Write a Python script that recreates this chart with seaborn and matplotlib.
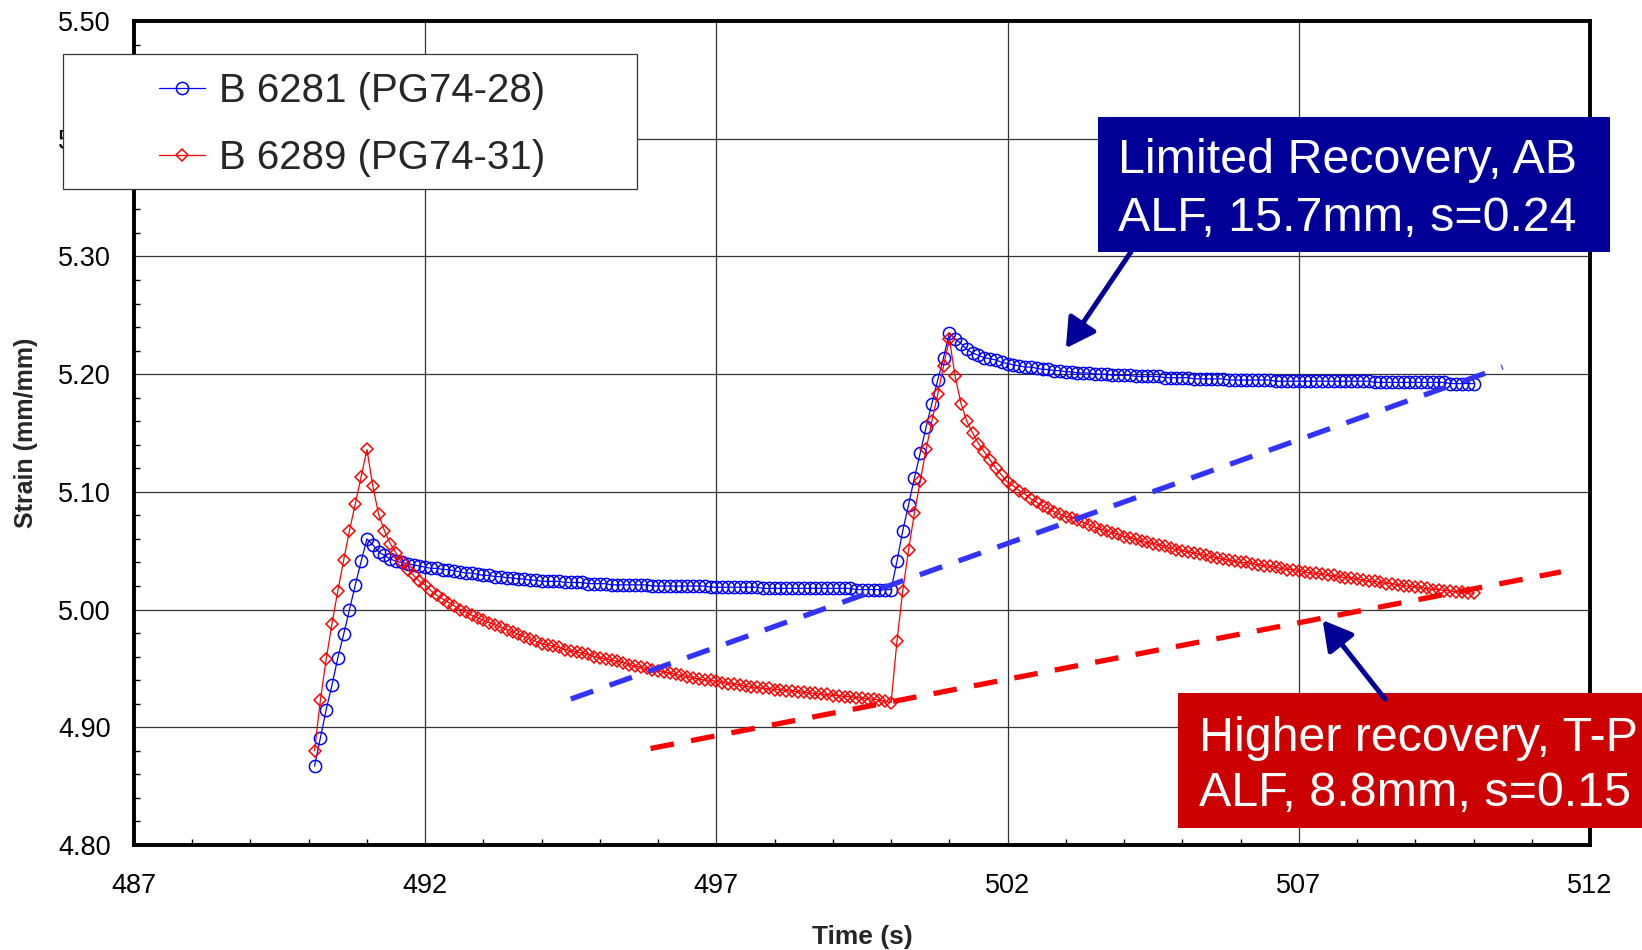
import numpy as np
import pandas as pd
import matplotlib
matplotlib.use("Agg")
import matplotlib.pyplot as plt
import seaborn as sns
from matplotlib.patches import Rectangle
from matplotlib.ticker import MultipleLocator, FixedLocator, FormatStrFormatter

# ---------------- data ----------------
series_labels = ["B 6281 (PG74-28)", "B 6289 (PG74-31)"]
time_start = 490.1   # first sample (s)
time_step = 0.1      # sampling interval (s)

strain_b6281 = [
    4.867, 4.891, 4.915, 4.936, 4.959, 4.979, 5.000, 5.021, 5.041, 5.060,
    5.055, 5.049, 5.046, 5.043, 5.041, 5.040, 5.039, 5.038, 5.037, 5.036,
    5.035, 5.035, 5.034, 5.034, 5.033, 5.032, 5.031, 5.031, 5.030, 5.029,
    5.029, 5.028, 5.028, 5.027, 5.027, 5.026, 5.026, 5.025, 5.025, 5.024,
    5.024, 5.024, 5.024, 5.023, 5.023, 5.023, 5.023, 5.022, 5.022, 5.022,
    5.022, 5.021, 5.021, 5.021, 5.021, 5.021, 5.021, 5.021, 5.020, 5.020,
    5.020, 5.020, 5.020, 5.020, 5.020, 5.020, 5.020, 5.020, 5.019, 5.019,
    5.019, 5.019, 5.019, 5.019, 5.019, 5.019, 5.019, 5.018, 5.018, 5.018,
    5.018, 5.018, 5.018, 5.018, 5.018, 5.018, 5.018, 5.018, 5.018, 5.018,
    5.018, 5.018, 5.018, 5.017, 5.017, 5.017, 5.017, 5.017, 5.017, 5.017,
    5.041, 5.067, 5.089, 5.112, 5.133, 5.155, 5.175, 5.195, 5.214, 5.235,
    5.230, 5.226, 5.221, 5.218, 5.216, 5.214, 5.213, 5.212, 5.210, 5.209,
    5.208, 5.207, 5.206, 5.206, 5.205, 5.204, 5.204, 5.203, 5.203, 5.202,
    5.202, 5.201, 5.201, 5.201, 5.200, 5.200, 5.200, 5.199, 5.199, 5.199,
    5.199, 5.198, 5.198, 5.198, 5.198, 5.198, 5.197, 5.197, 5.197, 5.197,
    5.197, 5.196, 5.196, 5.196, 5.196, 5.196, 5.196, 5.195, 5.195, 5.195,
    5.195, 5.195, 5.195, 5.195, 5.195, 5.194, 5.194, 5.194, 5.194, 5.194,
    5.194, 5.194, 5.194, 5.194, 5.194, 5.194, 5.194, 5.194, 5.194, 5.194,
    5.194, 5.194, 5.193, 5.193, 5.193, 5.193, 5.193, 5.193, 5.193, 5.193,
    5.193, 5.193, 5.193, 5.193, 5.193, 5.192, 5.192, 5.192, 5.192, 5.192,
]

strain_b6289 = [
    4.880, 4.923, 4.958, 4.988, 5.016, 5.042, 5.067, 5.090, 5.113, 5.136,
    5.105, 5.081, 5.067, 5.056, 5.048, 5.040, 5.034, 5.029, 5.024, 5.021,
    5.016, 5.012, 5.009, 5.006, 5.003, 5.000, 4.998, 4.995, 4.993, 4.991,
    4.989, 4.987, 4.985, 4.983, 4.981, 4.979, 4.977, 4.975, 4.973, 4.971,
    4.970, 4.969, 4.968, 4.966, 4.965, 4.964, 4.963, 4.962, 4.960, 4.959,
    4.958, 4.957, 4.956, 4.955, 4.953, 4.952, 4.951, 4.950, 4.949, 4.948,
    4.947, 4.946, 4.945, 4.944, 4.943, 4.942, 4.941, 4.940, 4.940, 4.939,
    4.938, 4.937, 4.937, 4.936, 4.935, 4.934, 4.934, 4.933, 4.933, 4.932,
    4.932, 4.931, 4.931, 4.930, 4.930, 4.929, 4.929, 4.928, 4.928, 4.927,
    4.927, 4.926, 4.926, 4.925, 4.925, 4.924, 4.924, 4.923, 4.922, 4.921,
    4.973, 5.016, 5.051, 5.082, 5.109, 5.136, 5.160, 5.183, 5.207, 5.230,
    5.198, 5.175, 5.160, 5.150, 5.141, 5.134, 5.127, 5.120, 5.114, 5.108,
    5.105, 5.101, 5.098, 5.094, 5.091, 5.088, 5.086, 5.083, 5.081, 5.079,
    5.078, 5.076, 5.074, 5.072, 5.070, 5.068, 5.067, 5.065, 5.064, 5.062,
    5.061, 5.060, 5.058, 5.057, 5.056, 5.055, 5.054, 5.052, 5.051, 5.050,
    5.049, 5.048, 5.047, 5.046, 5.045, 5.044, 5.043, 5.042, 5.041, 5.040,
    5.040, 5.039, 5.038, 5.037, 5.037, 5.036, 5.035, 5.034, 5.034, 5.033,
    5.032, 5.031, 5.031, 5.030, 5.029, 5.029, 5.028, 5.027, 5.027, 5.026,
    5.025, 5.024, 5.024, 5.023, 5.022, 5.022, 5.021, 5.020, 5.020, 5.019,
    5.019, 5.018, 5.017, 5.017, 5.016, 5.016, 5.015, 5.015, 5.014, 5.014,
]

# hand-drawn trend lines (end points)
trend_blue_time = [494.50, 510.50]
trend_blue_strain = [4.924, 5.206]
trend_red_time = [495.87, 511.50]
trend_red_strain = [4.882, 5.032]

x_ticks = [487, 492, 497, 502, 507, 512]
y_ticks = [4.80, 4.90, 5.00, 5.10, 5.20, 5.30, 5.40, 5.50]

note_blue = ["Limited Recovery, AB", "ALF, 15.7mm, s=0.24"]
note_red = ["Higher recovery, T-P", "ALF, 8.8mm, s=0.15"]

x_label = "Time (s)"
y_label = "Strain (mm/mm)"

# ---------------- styling ----------------
sns.set_style("white")
plt.rcParams["font.family"] = ["Liberation Sans", "DejaVu Sans"]

W, H = 1642, 950
fig = plt.figure(figsize=(W / 100, H / 100), dpi=100)
ax = fig.add_axes([134 / W, 1 - 845 / H, (1590 - 134) / W, (845 - 21) / H])

n = len(strain_b6281)
time = np.round(time_start + time_step * np.arange(n), 1)
df = pd.DataFrame({"time": time, "b6281": strain_b6281, "b6289": strain_b6289})

BLUE = "#0000FF"
RED = "#FF0000"

sns.lineplot(data=df, x="time", y="b6281", ax=ax, color=BLUE, linewidth=0.9,
             marker="o", markersize=8.8, markerfacecolor="none",
             markeredgecolor=BLUE, markeredgewidth=1.1,
             estimator=None, sort=False, legend=False, zorder=3)
line_b = ax.lines[-1]
sns.lineplot(data=df, x="time", y="b6289", ax=ax, color=RED, linewidth=0.9,
             marker="D", markersize=6.2, markerfacecolor="none",
             markeredgecolor=RED, markeredgewidth=1.1,
             estimator=None, sort=False, legend=False, zorder=3)
line_r = ax.lines[-1]

# trend lines
ax.plot(trend_blue_time, trend_blue_strain, color="#3333FF", lw=3.8,
        dashes=(4.5, 3.3), zorder=4, dash_capstyle="butt")
ax.plot(trend_red_time, trend_red_strain, color=RED, lw=3.8,
        dashes=(4.5, 3.3), zorder=4, dash_capstyle="butt")

# axes
ax.set_xlim(487, 512)
ax.set_ylim(4.80, 5.50)
ax.xaxis.set_major_locator(FixedLocator(x_ticks))
ax.yaxis.set_major_locator(FixedLocator(y_ticks))
ax.xaxis.set_minor_locator(MultipleLocator(1))
ax.yaxis.set_minor_locator(MultipleLocator(0.02))
ax.yaxis.set_major_formatter(FormatStrFormatter("%.2f"))
ax.grid(True, which="major", color="#333333", lw=0.9)
ax.set_axisbelow(True)
ax.tick_params(which="major", direction="in", length=0, labelsize=19.5,
               colors="black")
ax.tick_params(axis="x", which="major", pad=20)
ax.tick_params(axis="y", which="major", pad=16.5)
ax.tick_params(which="minor", direction="in", length=4, width=1,
               color="black", bottom=True, left=True)
for s in ax.spines.values():
    s.set_linewidth(2.8)
    s.set_color("black")

ax.set_xlabel(x_label, fontsize=19, fontweight="bold")
ax.set_ylabel(y_label, fontsize=18, fontweight="bold")
ax.xaxis.set_label_coords(0.5, (845 - 925) / 824)
ax.yaxis.set_label_coords((38 - 134) / 1456, 0.5)

# annotation boxes
ax.add_patch(Rectangle((503.55, 5.3037), 512.34 - 503.55, 5.4184 - 5.3037,
                       facecolor="#000099", edgecolor="none", zorder=6,
                       clip_on=False))
ax.add_patch(Rectangle((504.93, 4.8146), 513.6 - 504.93, 4.9288 - 4.8146,
                       facecolor="#CC0000", edgecolor="none", zorder=6,
                       clip_on=False))
for txt, yy in zip(note_blue, [5.3706, 5.3218]):
    ax.text(503.90, yy, txt, color="white", fontsize=34.8, ha="left",
            va="baseline", zorder=7, clip_on=False)
for txt, yy in zip(note_red, [4.8798, 4.8333]):
    ax.text(505.29, yy, txt, color="white", fontsize=34.8, ha="left",
            va="baseline", zorder=7, clip_on=False)

arrow_kw = dict(arrowstyle="-|>,head_length=0.8,head_width=0.45",
                color="#000099", lw=3.6, mutation_scale=22,
                shrinkA=0, shrinkB=0)
ax.annotate("", xy=(503.00, 5.222), xytext=(504.12, 5.304),
            arrowprops=arrow_kw, annotation_clip=False, zorder=8)
ax.annotate("", xy=(507.41, 4.991), xytext=(508.48, 4.924),
            arrowprops=arrow_kw, annotation_clip=False, zorder=8)

# legend with box extending beyond the axes
fig.add_artist(Rectangle((63 / W, 1 - 188.5 / H), 574 / W, 134 / H,
                         transform=fig.transFigure, facecolor="white",
                         edgecolor="#333333", lw=0.9, zorder=4))
fig.legend([line_b, line_r], series_labels, loc="upper left",
           bbox_to_anchor=(159 / W, 1 - 72 / H), bbox_transform=fig.transFigure,
           frameon=False, fontsize=29, handlelength=1.15, handletextpad=0.33,
           labelspacing=0.72, borderpad=0, borderaxespad=0, numpoints=1)

fig.savefig("out.png", dpi=100)
